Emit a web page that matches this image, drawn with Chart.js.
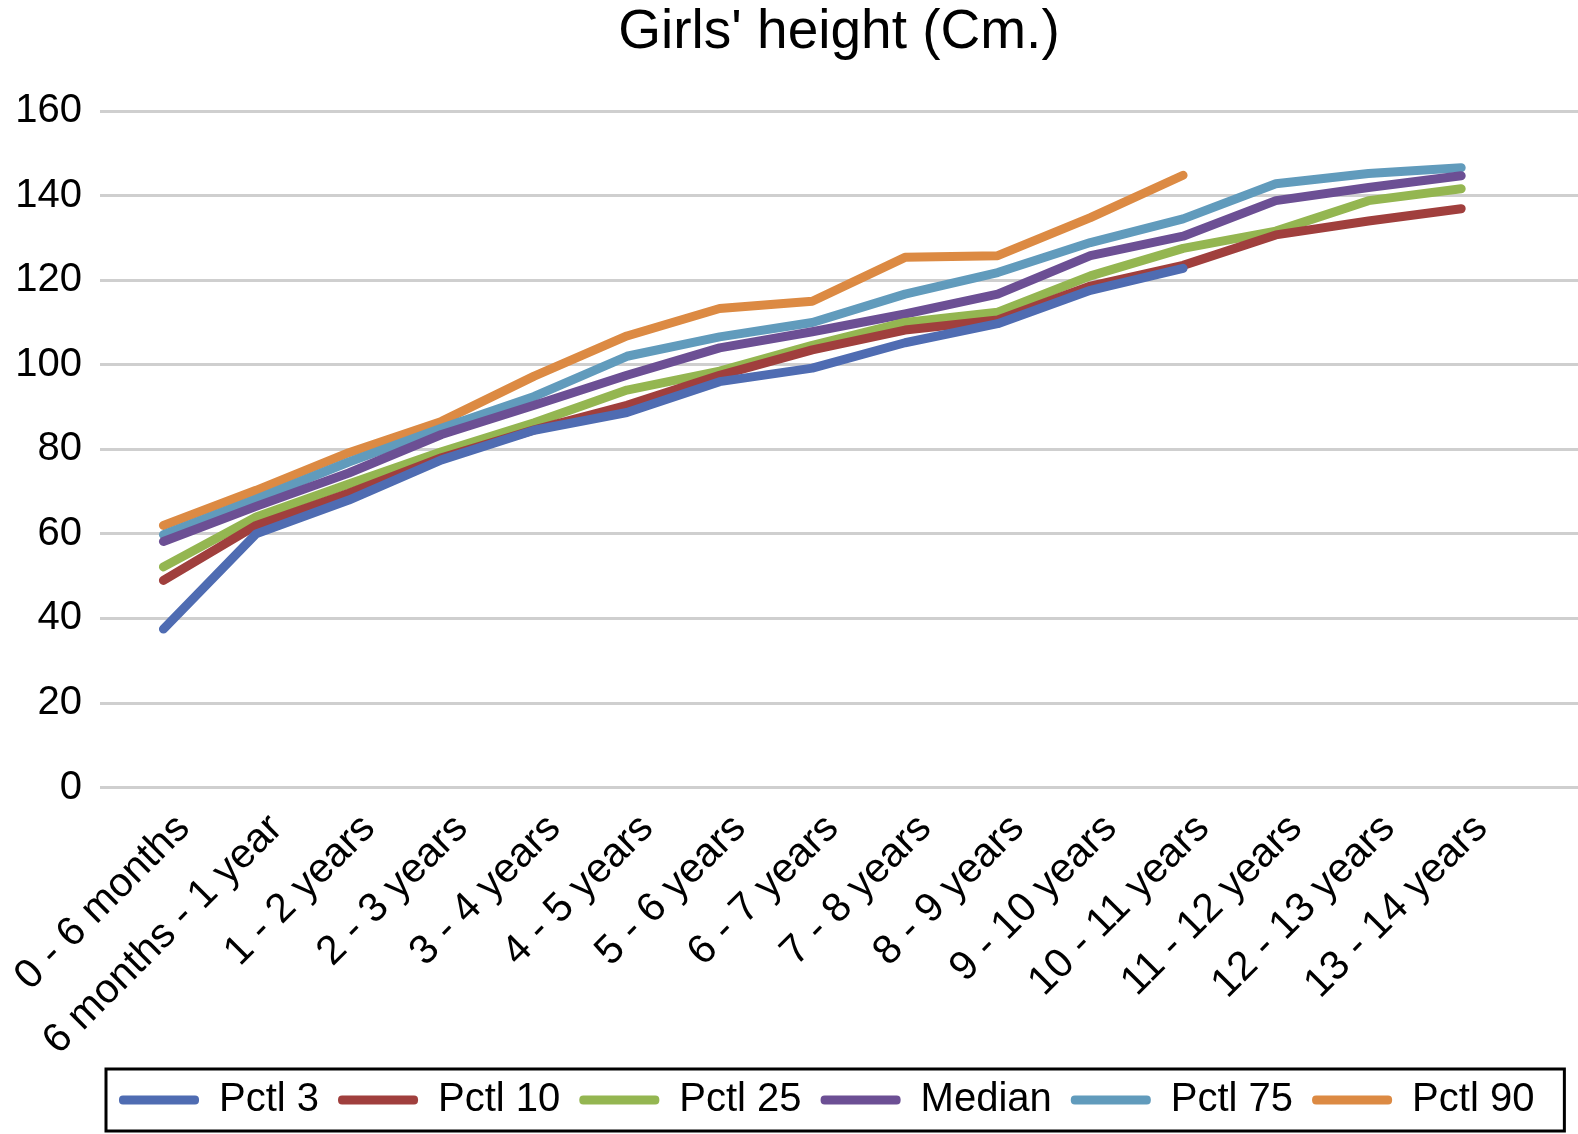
<!DOCTYPE html>
<html>
<head>
<meta charset="utf-8">
<script src="https://cdn.jsdelivr.net/npm/chart.js@4.4.1/dist/chart.umd.min.js"></script>
<style>
  html, body { margin: 0; padding: 0; background: #fff; }
  #wrap { width: 1578px; height: 1134px; }
</style>
</head>
<body>
<div id="wrap"><canvas id="heightChart"></canvas></div>
<script>
const ageGroups = ['0 - 6 months', '6 months - 1 year', '1 - 2 years', '2 - 3 years', '3 - 4 years',
  '4 - 5 years', '5 - 6 years', '6 - 7 years', '7 - 8 years', '8 - 9 years', '9 - 10 years',
  '10 - 11 years', '11 - 12 years', '12 - 13 years', '13 - 14 years'];

const pctl3   = [37.5, 60, 68, 77.5, 84.5, 88.7, 96, 99.2, 105.2, 109.7, 117.6, 122.8, null, null, null];
const pctl10  = [49, 62, 69.6, 78, 84.6, 90.4, 97.5, 103.5, 108.2, 110.6, 118.6, 123.5, 130.7, 134, 136.9];
const pctl25  = [52.2, 64, 71.8, 79.4, 86.3, 94, 98.5, 104.6, 110, 112.4, 121, 127.5, 131.6, 138.8, 141.6];
const median  = [58.2, 66.5, 74.4, 83.5, 90.4, 97.5, 104, 107.8, 112, 116.7, 125.8, 130.4, 138.8, 141.9, 144.7];
const pctl75  = [59.8, 68.2, 77, 85, 92.5, 102, 106.6, 110, 116.7, 121.8, 128.9, 134.5, 142.8, 145.2, 146.6];
const pctl90  = [62, 70.3, 79.2, 86.6, 97.3, 106.8, 113.3, 115, 125.4, 125.8, 134.8, 144.8, null, null, null];

const yTicks = [0, 20, 40, 60, 80, 100, 120, 140, 160];

const series = [
  { label: 'Pctl 3', values: pctl3, color: '#4f6cb2' },
  { label: 'Pctl 10', values: pctl10, color: '#a03f3d' },
  { label: 'Pctl 25', values: pctl25, color: '#94b651' },
  { label: 'Median', values: median, color: '#6c4f94' },
  { label: 'Pctl 75', values: pctl75, color: '#619bbc' },
  { label: 'Pctl 90', values: pctl90, color: '#dc8a43' },
];

const font = '"Liberation Sans", Arial, sans-serif';

// box round the legend, like the original
const legendBox = {
  id: 'legendBox',
  afterDraw(chart) {
    const boxes = chart.legend.legendHitBoxes;
    if (!boxes || !boxes.length) return;
    const left = Math.min(...boxes.map(b => b.left)) - 13;
    const right = Math.max(...boxes.map(b => b.left + b.width)) + 30;
    const top = Math.min(...boxes.map(b => b.top)) - 11;
    const bottom = Math.max(...boxes.map(b => b.top + b.height)) + 11;
    const ctx = chart.ctx;
    ctx.save();
    ctx.strokeStyle = '#000';
    ctx.lineWidth = 3;
    ctx.strokeRect(left, top, right - left, bottom - top);
    ctx.restore();
  }
};

new Chart(document.getElementById('heightChart'), {
  type: 'line',
  data: {
    datasets: series.map(s => ({
      label: s.label,
      data: s.values.map((v, i) => ({ x: i, y: v })),
      borderColor: s.color,
      backgroundColor: s.color,
      borderWidth: 9,
      borderCapStyle: 'round',
      borderJoinStyle: 'round',
      pointRadius: 0,
      tension: 0,
      fill: false,
    })),
  },
  options: {
    responsive: true,
    maintainAspectRatio: false,
    animation: false,
    layout: { padding: { top: 0, right: 0, bottom: 4, left: 0 } },
    scales: {
      x: {
        type: 'linear',
        min: -0.684,
        max: 15.26,
        grid: { display: false },
        border: { display: false },
        afterFit: scale => {
          scale.paddingLeft = 0;
          scale.paddingRight = 0;
          scale.height -= 13;
        },
        ticks: {
          stepSize: 1,
          includeBounds: false,
          autoSkip: false,
          minRotation: 45,
          maxRotation: 45,
          color: '#000',
          padding: 9,
          labelOffset: 20,
          font: { family: font, size: 41 },
          callback: v => (Number.isInteger(v) && ageGroups[v]) ? ageGroups[v] : '',
        },
      },
      y: {
        min: 0,
        max: 160,
        afterFit: scale => { scale.width = 100; },
        afterBuildTicks: scale => { scale.ticks = yTicks.map(v => ({ value: v })); },
        grid: { color: '#cfcfcf', lineWidth: 3, drawTicks: false },
        border: { display: false },
        ticks: {
          color: '#000',
          padding: 18,
          font: { family: font, size: 40 },
        },
      },
    },
    plugins: {
      title: {
        display: true,
        fullSize: false,
        text: "Girls' height (Cm.)",
        color: '#000',
        font: { family: font, size: 55, weight: 'normal' },
        padding: { top: 0, bottom: 45 },
      },
      legend: {
        position: 'bottom',
        fullSize: false,
        align: 'start',
        labels: {
          color: '#000',
          font: { family: font, size: 40 },
          boxWidth: 80,
          boxHeight: 9,
          padding: 19,
          useBorderRadius: true,
          borderRadius: 4,
          generateLabels: chart => Chart.defaults.plugins.legend.labels.generateLabels(chart)
            .map(l => ({ ...l, lineWidth: 0 })),
        },
      },
      tooltip: { enabled: false },
    },
  },
  plugins: [legendBox],
});
</script>
</body>
</html>
